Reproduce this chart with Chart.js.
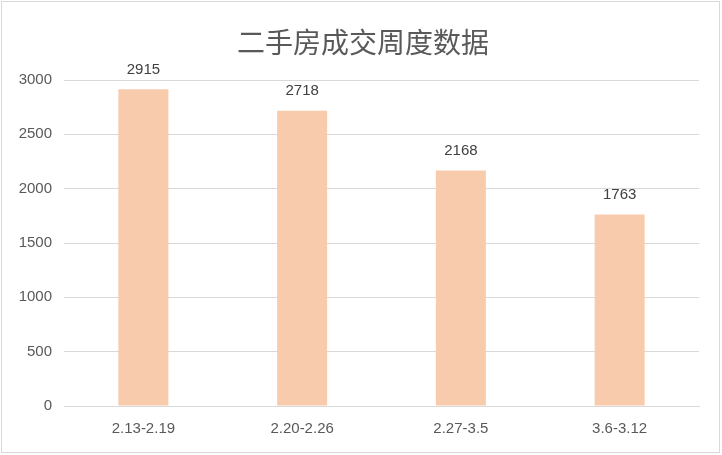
<!DOCTYPE html>
<html>
<head>
<meta charset="utf-8">
<script src="https://cdn.jsdelivr.net/npm/chart.js@4/dist/chart.umd.min.js"></script>
<style>
  html, body { margin: 0; padding: 0; background: #fff; }
  #wrap { width: 722px; height: 455px; }
</style>
</head>
<body>
<div id="wrap"><canvas id="chart" width="722" height="455"></canvas></div>
<script>
const chartTitle = "二手房成交周度数据";
const weeks = ["2.13-2.19", "2.20-2.26", "2.27-3.5", "3.6-3.12"];
const deals = [2915, 2718, 2168, 1763];
const yTicks = [0, 500, 1000, 1500, 2000, 2500, 3000];

const textColor = "#595959";
const gridColor = "#d9d9d9";

// white background + thin frame + title (title sits centred on the whole picture)
const framePlugin = {
  id: "frame",
  beforeDraw(chart) {
    const ctx = chart.ctx;
    ctx.save();
    ctx.fillStyle = "#fff";
    ctx.fillRect(0, 0, chart.width, chart.height);
    ctx.strokeStyle = gridColor;
    ctx.lineWidth = 1;
    ctx.strokeRect(1.5, 1.5, chart.width - 4, chart.height - 4);
    ctx.font = "28px 'Noto Sans CJK SC', sans-serif";
    ctx.fillStyle = textColor;
    ctx.textAlign = "center";
    ctx.textBaseline = "middle";
    ctx.fillText(chartTitle, chart.width / 2 + 2, 42);
    ctx.restore();
  },
};

// value labels above bars
const valueLabels = {
  id: "valueLabels",
  afterDatasetsDraw(chart) {
    const ctx = chart.ctx;
    const meta = chart.getDatasetMeta(0);
    ctx.save();
    ctx.font = "15px 'Liberation Sans', sans-serif";
    ctx.fillStyle = "#404040";
    ctx.textAlign = "center";
    ctx.textBaseline = "bottom";
    meta.data.forEach((bar, i) => {
      ctx.fillText(String(deals[i]), bar.x, bar.y - 12);
    });
    ctx.restore();
  },
};

new Chart(document.getElementById("chart"), {
  type: "bar",
  data: {
    labels: weeks,
    datasets: [{
      data: deals,
      backgroundColor: "#f8cbad",
      borderWidth: 0,
      categoryPercentage: 1,
      barPercentage: 0.315,
    }],
  },
  options: {
    responsive: false,
    animation: false,
    layout: { padding: { left: 0, right: 23, top: 80, bottom: 0 } },
    plugins: {
      legend: { display: false },
      tooltip: { enabled: false },
      title: { display: false },
    },
    scales: {
      x: {
        grid: { display: false, drawTicks: false },
        border: { color: gridColor, width: 1 },
        ticks: {
          color: textColor,
          font: { family: "'Liberation Sans', sans-serif", size: 15 },
          padding: 14,
        },
        afterFit(scale) { scale.height = 49; },
      },
      y: {
        min: 0,
        max: 3000,
        afterBuildTicks(scale) { scale.ticks = yTicks.map((v) => ({ value: v })); },
        grid: { color: gridColor, drawTicks: false },
        border: { display: false },
        ticks: {
          color: textColor,
          font: { family: "'Liberation Sans', sans-serif", size: 15 },
          padding: 12,
          callback: (v) => String(v),
        },
        afterFit(scale) { scale.width = 64; },
      },
    },
  },
  plugins: [framePlugin, valueLabels],
});
</script>
</body>
</html>
